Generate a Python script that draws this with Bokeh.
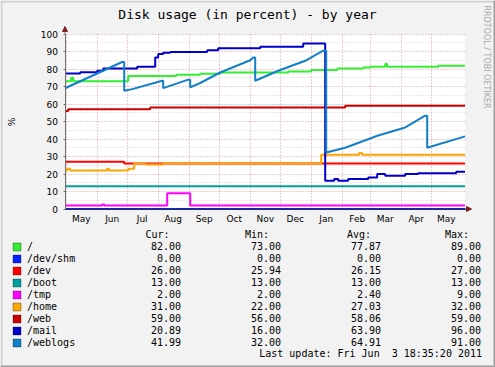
from math import pi
from bokeh.plotting import figure
from bokeh.models import (Range1d, FixedTicker, Label, BoxAnnotation, Arrow, NormalHead,
                          LinearAxis, Grid)
from bokeh.embed import file_html
from bokeh.resources import INLINE

# ---------------- data ----------------
# x = days since 1 May 2010 ; graph ends 3 Jun 2011 18:35
X_START, X_END = -1.2, 398.8
month_names = ["May", "Jun", "Jul", "Aug", "Sep", "Oct", "Nov", "Dec",
               "Jan", "Feb", "Mar", "Apr", "May"]
month_start = [0, 31, 61, 92, 123, 153, 184, 214, 245, 276, 304, 335, 365]
y_ticks = [0, 10, 20, 30, 40, 50, 60, 70, 80, 90, 100]

root_x = [-1.2, 5, 7, 62, 110, 134, 154, 222, 245, 271, 297, 304, 319, 321, 372, 398.8]
root_y = [73, 75, 73, 76, 76.7, 77.3, 78, 78.6, 79.4, 80.3, 80.9, 81.3, 82.8, 81.3, 81.9, 81.9]

shm_x = [-1.2, 398.8]
shm_y = [0, 0]

dev_x = [-1.2, 58, 398.8]
dev_y = [27, 26, 26]

boot_x = [-1.2, 398.8]
boot_y = [13, 13]

tmp_x = [-1.2, 36, 38, 101, 124, 398.8]
tmp_y = [2, 2.6, 2, 9, 2, 2]

home_x = [-1.2, 1, 4, 41, 43, 62, 68, 79, 97, 255, 293, 296, 398.8]
home_y = [22, 23, 22, 23, 22, 23, 26, 25.4, 26, 31, 32, 31, 31]

web_x = [-1.2, 2, 84, 279, 398.8]
web_y = [56, 57, 58, 59, 59]

mail_x = [-1.2, 14, 31, 37, 71, 89, 92, 97, 104, 141, 152, 194, 237, 259, 268, 272,
          282, 302, 311, 319, 339, 352, 372, 390, 398.8]
mail_y = [77.5, 78.1, 79, 80.3, 81.3, 86.6, 88.6, 89.3, 89.7, 90.7, 91.8, 92.7, 94.6,
          16.2, 17.1, 16.2, 17.1, 18, 20, 19, 20, 20.5, 20.4, 21.3, 21.3]

weblogs_x = [-1.2, 56, 58, 58, 66, 96, 97, 97, 122, 124, 124, 134, 154, 184, 187, 189,
             189, 212, 239, 257, 260, 260, 279, 312, 339, 359, 361, 361, 398.8]
weblogs_y = [69, 84, 84, 67.6, 68.5, 73.3, 73.3, 69.1, 73.9, 73.9, 69.5, 72, 78, 85,
             86.6, 86.6, 73.3, 79, 84.7, 90.5, 90.5, 32.3, 35, 42, 46.6, 53.3, 53.3, 35, 41.5]

names = ["/", "/dev/shm", "/dev", "/boot", "/tmp", "/home", "/web", "/mail", "/weblogs"]
colors = ["#33EE33", "#0022FF", "#FF0000", "#00A0A0", "#FF00FF", "#FFA500",
          "#CC0000", "#0000CC", "#1080C8"]
cur = [82.00, 0.00, 26.00, 13.00, 2.00, 31.00, 59.00, 20.89, 41.99]
mins = [73.00, 0.00, 25.94, 13.00, 2.00, 22.00, 56.00, 16.00, 32.00]
avgs = [77.87, 0.00, 26.15, 13.00, 2.40, 27.03, 58.06, 63.90, 64.91]
maxs = [89.00, 0.00, 27.00, 13.00, 9.00, 32.00, 59.00, 96.00, 91.00]

title = "Disk usage (in percent) - by year"
last_update = "Last update: Fri Jun \u00a03 18:35:20 2011"
watermark = "RRDTOOL / TOBI OETIKER"

# ---------------- layout (canvas pixels -> data) ----------------
W, H = 495, 367
PX_LEFT = 64.5      # canvas x of X_START
PX_ZERO = 208.5     # canvas y of value 0
PX_PER_UNIT = 1.75  # canvas px per percent


def dx(px):
    return X_START + (px - PX_LEFT) * (X_END - X_START) / 400.0


def dy(py):
    return (PX_ZERO - py) / PX_PER_UNIT


BACK = "#F2F2F2"
MONO = "DejaVu Sans Mono"
SANS = "DejaVu Sans"

p = figure(width=W, height=H, output_backend="svg", toolbar_location=None,
           x_range=Range1d(dx(0), dx(W)), y_range=Range1d(dy(H), dy(0)),
           x_axis_type=None, y_axis_type=None, min_border=0)
p.min_border_left = p.min_border_right = p.min_border_top = p.min_border_bottom = 0
p.border_fill_color = BACK
p.background_fill_color = BACK
p.outline_line_color = None

# white canvas of the graph
p.quad(left=[X_START], right=[X_END], bottom=[0], top=[100], fill_color="white",
       line_color=None, level="image")

# grids
GRID_RED = "#DE5050"
xg = Grid(dimension=0, ticker=FixedTicker(ticks=month_start), cross_bounds=(0, 100),
          grid_line_color=GRID_RED, grid_line_alpha=0.6, grid_line_dash="1 2")
yg = Grid(dimension=1,
          ticker=FixedTicker(ticks=y_ticks, minor_ticks=[v + 5 for v in y_ticks[:-1]]),
          cross_bounds=(X_START, X_END),
          grid_line_color=GRID_RED, grid_line_alpha=0.6, grid_line_dash="1 2",
          minor_grid_line_color="#C89090", minor_grid_line_alpha=0.45,
          minor_grid_line_dash="1 2")
p.add_layout(xg)
p.add_layout(yg)

# series (drawn in legend order)
LW = 2
p.step(root_x, root_y, mode="after", line_color=colors[0], line_width=LW)
p.line(shm_x, shm_y, line_color=colors[1], line_width=LW)
p.step(dev_x, dev_y, mode="after", line_color=colors[2], line_width=LW)
p.line(boot_x, boot_y, line_color=colors[3], line_width=LW)
p.step(tmp_x, tmp_y, mode="after", line_color=colors[4], line_width=LW)
p.step(home_x, home_y, mode="after", line_color=colors[5], line_width=LW)
p.step(web_x, web_y, mode="after", line_color=colors[6], line_width=LW)
p.step(mail_x, mail_y, mode="after", line_color=colors[7], line_width=LW)
p.line(weblogs_x, weblogs_y, line_color=colors[8], line_width=LW)

# axes at fixed positions
mid = [m + 15 for m in month_start]
yax = LinearAxis(fixed_location=X_START, bounds=(0, 100),
                 ticker=FixedTicker(ticks=y_ticks),
                 major_label_text_font=SANS, major_label_text_font_size="9px",
                 major_label_text_color="black", axis_line_color="#707070",
                 major_tick_line_color="#707070", major_tick_out=2, major_tick_in=0,
                 minor_tick_line_color=None, major_label_standoff=5)
xax = LinearAxis(fixed_location=0, bounds=(X_START, X_END),
                 ticker=FixedTicker(ticks=mid),
                 major_label_overrides={m: n for m, n in zip(mid, month_names)},
                 major_label_text_font=SANS, major_label_text_font_size="9px",
                 major_label_text_color="black", axis_line_color="#303030",
                 major_tick_line_color=None, minor_tick_line_color=None,
                 major_tick_out=0, major_tick_in=0, major_label_standoff=5)
p.add_layout(yax, "left")
p.add_layout(xax, "below")

# axis arrows
ARROW = "#7F1F1F"
p.add_layout(Arrow(x_start=X_START, y_start=100, x_end=X_START, y_end=dy(26),
                   line_color="#707070", line_width=1,
                   end=NormalHead(size=5, fill_color=ARROW, line_color=ARROW)))
p.add_layout(Arrow(x_start=X_END, y_start=0, x_end=dx(471), y_end=0,
                   line_color="#303030", line_width=1,
                   end=NormalHead(size=5, fill_color=ARROW, line_color=ARROW)))

# title / side texts
p.add_layout(Label(x=dx(247), y=dy(14), text=title, text_font=MONO,
                   text_font_size="13px", text_align="center", text_baseline="middle",
                   text_color="black"))
p.add_layout(Label(x=dx(11), y=dy(121.5), text="%", text_font=SANS, angle=pi / 2,
                   text_font_size="9px", text_align="center", text_baseline="middle",
                   text_color="black"))
p.add_layout(Label(x=dx(485.5), y=dy(5), text=watermark, text_font=SANS, angle=-pi / 2,
                   text_font_size="8px", text_align="left", text_baseline="middle",
                   text_color="#A8A8A8"))

# legend table
HEAD_Y = 234
ROW0, ROWH = 245.7, 12
COL_R = [180.5, 280.5, 380.5, 480.5]
HEAD_L = [145, 244.5, 346.5, 444.5]
for t, xl in zip(["Cur:", "Min:", "Avg:", "Max:"], HEAD_L):
    p.add_layout(Label(x=dx(xl), y=dy(HEAD_Y), text=t, text_font=MONO,
                       text_font_size="10px", text_align="left", text_baseline="middle",
                       text_color="black"))
for i, nm in enumerate(names):
    cy = ROW0 + i * ROWH
    top = round(cy) - 3.5
    p.add_layout(BoxAnnotation(left=dx(12.5), right=dx(20.5), top=dy(top), bottom=dy(top + 8),
                               fill_color=colors[i], fill_alpha=1, line_color="black",
                               line_width=1))
    p.add_layout(Label(x=dx(26.5), y=dy(cy), text=nm, text_font=MONO,
                       text_font_size="10px", text_align="left", text_baseline="middle",
                       text_color="black"))
    for vals, xr in zip([cur, mins, avgs, maxs], COL_R):
        p.add_layout(Label(x=dx(xr), y=dy(cy), text="%.2f" % vals[i], text_font=MONO,
                           text_font_size="10px", text_align="right",
                           text_baseline="middle", text_color="black"))
p.add_layout(Label(x=dx(481.5), y=dy(353), text=last_update, text_font=MONO,
                   text_font_size="10px", text_align="right", text_baseline="middle",
                   text_color="black"))

# 3D frame (shade A top/left, shade B bottom/right)
SA, SB = "#CFCFCF", "#9E9E9E"
for (l, r, t, b, c) in [(0, W, 0, 2, SA), (0, 2, 0, H, SA),
                        (0, W, H - 2, H, SB), (W - 2, W, 0, H, SB)]:
    p.add_layout(BoxAnnotation(left=dx(l), right=dx(r), top=dy(t), bottom=dy(b),
                               fill_color=c, fill_alpha=1, line_color=None))

open("out.html", "w").write(file_html(p, INLINE))
